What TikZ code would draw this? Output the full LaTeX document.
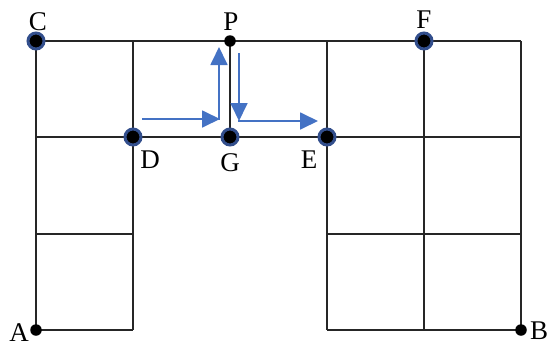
\documentclass[tikz,border=0pt]{standalone}
\usepackage{fontspec}
\setmainfont{Liberation Serif}
\usetikzlibrary{arrows.meta}
\definecolor{ringblue}{RGB}{50,78,140}
\definecolor{arrowblue}{RGB}{68,114,196}
\begin{document}
\begin{tikzpicture}[x=1pt,y=-1pt,
  gridline/.style={line width=2.4pt,draw=black!85},
  bigdot/.style={circle,fill=black,draw=ringblue,line width=3pt,minimum size=16pt,inner sep=0pt},
  smalldot/.style={circle,fill=black,minimum size=11.5pt,inner sep=0pt},
  lbl/.style={font=\fontsize{27}{27}\selectfont,inner sep=0pt,anchor=base},
  flow/.style={draw=arrowblue,line width=1.8pt,-{Triangle[length=18pt,width=17pt]}}]
\useasboundingbox (0,0) rectangle (548,346);
% grid points
\coordinate (C) at (36,41);
\coordinate (c10) at (133,41);
\coordinate (P) at (230,41);
\coordinate (c30) at (327,41);
\coordinate (F) at (424,41);
\coordinate (c50) at (521,41);
\coordinate (c01) at (36,137);
\coordinate (D) at (133,137);
\coordinate (G) at (230,137);
\coordinate (E) at (327,137);
\coordinate (c51) at (521,137);
\coordinate (c02) at (36,234);
\coordinate (c12) at (133,234);
\coordinate (c32) at (327,234);
\coordinate (c52) at (521,234);
\coordinate (A) at (36,330);
\coordinate (c13) at (133,330);
\coordinate (c33) at (327,330);
\coordinate (c43) at (424,330);
\coordinate (B) at (521,330);
% grid lines
\draw[gridline] (C) -- (c50);
\draw[gridline] (c01) -- (c51);
\draw[gridline] (c02) -- (c12);
\draw[gridline] (A) -- (c13);
\draw[gridline] (c32) -- (c52);
\draw[gridline] (c33) -- (B);
\draw[gridline] (C) -- (A);
\draw[gridline] (c10) -- (c13);
\draw[gridline] (P) -- (G);
\draw[gridline] (c30) -- (c33);
\draw[gridline] (F) -- (c43);
\draw[gridline] (c50) -- (B);
% blue arrows
\coordinate (a1) at (142,119);
\coordinate (a2) at (219,119);
\coordinate (a2h) at (220,119);
\coordinate (a2v) at (219,120);
\coordinate (a3) at (219,47);
\coordinate (b1) at (239,53);
\coordinate (b2) at (239,121);
\coordinate (b2h) at (238,121);
\coordinate (b3) at (318,121);
\draw[flow] (a1) -- (a2h);
\draw[flow] (a2v) -- (a3);
\draw[flow] (b1) -- (b2);
\draw[flow] (b2h) -- (b3);
% dots
\node[bigdot] (dC) at (C) {};
\node[bigdot] (dD) at (D) {};
\node[bigdot] (dG) at (G) {};
\node[bigdot] (dE) at (E) {};
\node[bigdot] (dF) at (F) {};
\node[smalldot] (dP) at (P) {};
\node[smalldot] (dA) at (A) {};
\node[smalldot] (dB) at (B) {};
% labels
\node[lbl] (lC) at (38,30) {C};
\node[lbl] (lP) at (231,30) {P};
\node[lbl] (lF) at (424,28) {F};
\node[lbl] (lD) at (150,168) {D};
\node[lbl] (lG) at (230,171) {G};
\node[lbl] (lE) at (309,168) {E};
\node[lbl] (lA) at (19,341) {A};
\node[lbl] (lB) at (539,339) {B};
\end{tikzpicture}
\end{document}
